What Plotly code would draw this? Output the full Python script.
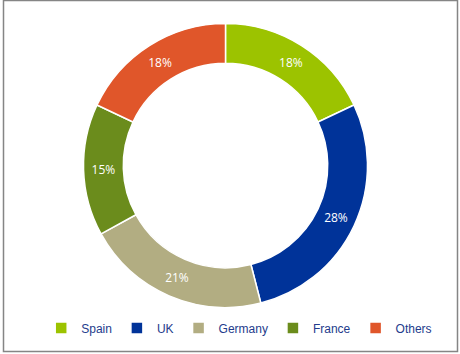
import plotly.graph_objects as go

categories = ["Spain", "UK", "Germany", "France", "Others"]
values = [18, 28, 21, 15, 18]
colors = ["#9CC300", "#003399", "#B2AD82", "#6B8C1C", "#E0562A"]

W, H = 460, 354
cx, cy, r = 225.5, 165.5, 142

fig = go.Figure(go.Pie(
    labels=categories,
    values=values,
    sort=False,
    direction="clockwise",
    rotation=0,
    hole=0.72,
    marker=dict(colors=colors, line=dict(color="white", width=1.5)),
    textinfo="percent",
    texttemplate="%{percent:.0%}",
    textposition="inside",
    insidetextorientation="horizontal",
    textfont=dict(color="white", size=12, family="Open Sans"),
    domain=dict(x=[(cx - r) / W, (cx + r) / W], y=[1 - (cy + r) / H, 1 - (cy - r) / H]),
))

fig.update_layout(
    width=W, height=H,
    margin=dict(l=0, r=0, t=0, b=0),
    paper_bgcolor="white",
    plot_bgcolor="white",
    showlegend=True,
    legend=dict(
        orientation="h",
        x=0.52, xanchor="center",
        y=1 - 328 / H, yanchor="middle",
        font=dict(family="Liberation Sans", size=12, color="#243C8C"),
        itemwidth=30,
        tracegroupgap=0,
    ),
    shapes=[dict(
        type="rect", xref="paper", yref="paper",
        x0=3.5 / W, x1=457.5 / W, y0=1 - 351.5 / H, y1=1 - 0.5 / H,
        line=dict(color="#858585", width=1.5),
        fillcolor="rgba(0,0,0,0)",
    )],
)

fig.write_html("out.html")
